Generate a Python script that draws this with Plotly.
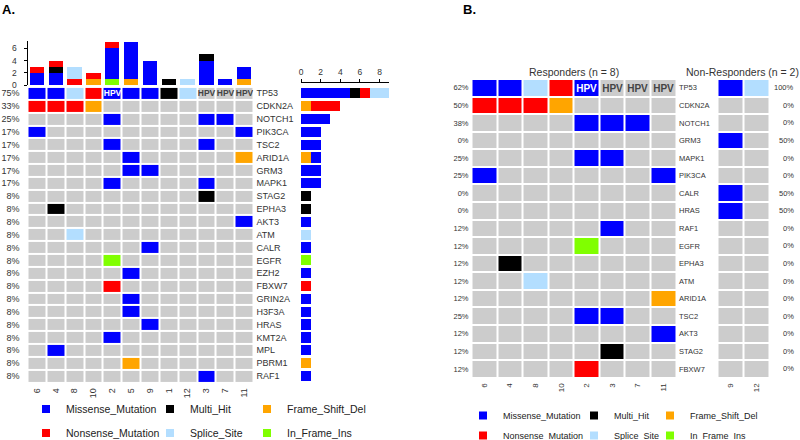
import plotly.graph_objects as go

W, H = 800, 440
FONT = "Liberation Sans, Arial, sans-serif"
TXT = "#333333"

# ---------------- data ----------------
classes = ["In_Frame_Ins", "Frame_Shift_Del", "Missense_Mutation", "Multi_Hit",
           "Nonsense_Mutation", "Splice_Site"]
class_codes = ["I", "F", "M", "H", "N", "S"]
class_colors = ["#80FF00", "#FFA500", "#0000FF", "#000000", "#FF0000", "#B3DEFF"]
NONE_COLOR = "#CCCCCC"

samples_a = ["6", "4", "8", "10", "2", "5", "9", "1", "12", "3", "7", "11"]
hpv_a = [0, 0, 0, 0, 1, 0, 0, 0, 0, 1, 1, 1]
genes_a = ["TP53", "CDKN2A", "NOTCH1", "PIK3CA", "TSC2", "ARID1A", "GRM3", "MAPK1",
           "STAG2", "EPHA3", "AKT3", "ATM", "CALR", "EGFR", "EZH2", "FBXW7", "GRIN2A",
           "H3F3A", "HRAS", "KMT2A", "MPL", "PBRM1", "RAF1"]
pct_a = ["75%", "33%", "25%", "17%", "17%", "17%", "17%", "17%", "8%", "8%", "8%", "8%",
         "8%", "8%", "8%", "8%", "8%", "8%", "8%", "8%", "8%", "8%", "8%"]
# one character per sample (order of samples_a); '.' = no mutation
muts_a = ["MMSNMMMHS...",
          "NNNF........",
          "....M....MM.",
          "M..........M",
          "....M....M..",
          ".....M.....F",
          ".....MM.....",
          "....M....M..",
          ".........H..",
          ".H..........",
          "...........M",
          "..S.........",
          "......M.....",
          "....I.......",
          ".....M......",
          "....N.......",
          ".....M......",
          ".....M......",
          "......M.....",
          "....M.......",
          ".M..........",
          ".....F......",
          ".........M.."]

samples_resp = ["6", "4", "8", "10", "2", "3", "7", "11"]
samples_nonresp = ["9", "12"]
hpv_resp = [0, 0, 0, 0, 1, 1, 1, 1]
hpv_nonresp = [0, 0]
genes_b = ["TP53", "CDKN2A", "NOTCH1", "GRM3", "MAPK1", "PIK3CA", "CALR", "HRAS", "RAF1",
           "EGFR", "EPHA3", "ATM", "ARID1A", "TSC2", "AKT3", "STAG2", "FBXW7"]
pct_resp = ["62%", "50%", "38%", "0%", "25%", "25%", "0%", "0%", "12%", "12%", "12%",
            "12%", "12%", "25%", "12%", "12%", "12%"]
pct_nonresp = ["100%", "0%", "0%", "50%", "0%", "0%", "50%", "50%", "0%", "0%", "0%",
               "0%", "0%", "0%", "0%", "0%", "0%"]
muts_resp = ["MMSNM...", "NNNF....", "....MMM.", "........", "....MM..", "M......M",
             "........", "........", ".....M..", "....I...", ".H......", "..S.....",
             ".......F", "....MM..", ".......M", ".....H..", "....N..."]
muts_nonresp = ["MS", "..", "..", "M.", "..", "..", "M.", "M.", "..", "..", "..",
                "..", "..", "..", "..", "..", ".."]

legend_cols = [["Missense_Mutation", "Nonsense_Mutation"],
               ["Multi_Hit", "Splice_Site"],
               ["Frame_Shift_Del", "In_Frame_Ins"]]

# ---------------- helpers ----------------
def fx(p):
    return p / W


def fy(p):
    return 1 - p / H


heat_codes = [".", "M", "N", "H", "S", "F", "I"]
heat_colors = [NONE_COLOR] + [class_colors[class_codes.index(c)] for c in heat_codes[1:]]
ncat = len(heat_codes)
colorscale = []
for k, c in enumerate(heat_colors):
    colorscale += [[k / ncat, c], [(k + 1) / ncat, c]]


def zmat(rows):
    return [[heat_codes.index(ch) for ch in r] for r in rows]


def textmat(rows, hpv):
    out = []
    for i, r in enumerate(rows):
        out.append(["HPV" if (i == 0 and hpv[j]) else "" for j in range(len(r))])
    return out


def heat(rows, hpv, xa, ya, gap, fsize):
    return go.Heatmap(z=zmat(rows), x=list(range(len(rows[0]))), y=list(range(len(rows))),
                      zmin=0, zmax=ncat - 1, colorscale=colorscale, showscale=False,
                      xgap=gap, ygap=gap, text=textmat(rows, hpv),
                      texttemplate="<b>%{text}</b>",
                      textfont=dict(size=fsize, family=FONT),
                      hoverinfo="skip", xaxis=xa, yaxis=ya)


def dummy(xa, ya):
    return go.Scatter(x=[0], y=[0], mode="markers", marker=dict(opacity=0),
                      hoverinfo="skip", showlegend=False, xaxis=xa, yaxis=ya)


legend_of = {}
rank_of = {}
for ci, col in enumerate(legend_cols):
    for ri, name in enumerate(col):
        legend_of[name] = ci
        rank_of[name] = ri + 1

fig = go.Figure()

# ---------------- panel A ----------------
fig.add_trace(heat(muts_a, hpv_a, "x", "y", 2, 8.5))
fig.add_trace(dummy("x", "y2"))

# top bars: counts per sample
for cls, code, col in zip(classes, class_codes, class_colors):
    counts = [sum(1 for r in muts_a if r[j] == code) for j in range(len(samples_a))]
    fig.add_trace(go.Bar(x=list(range(len(samples_a))), y=counts, marker_color=col,
                         marker_line_width=0, width=0.76, name=cls, showlegend=False,
                         hoverinfo="skip", xaxis="x2", yaxis="y3"))

# right bars: counts per gene
for cls, code, col in zip(classes, class_codes, class_colors):
    counts = [r.count(code) for r in muts_a]
    fig.add_trace(go.Bar(y=list(range(len(genes_a))), x=counts, orientation="h",
                         marker_color=col, marker_line_width=0, width=0.8, name=cls,
                         showlegend=False, hoverinfo="skip", xaxis="x3", yaxis="y4"))

# legend keys (legend-only entries) for both panels
for panel, base in (("a", 0), ("b", 3)):
    for cls, col in zip(classes, class_colors):
        li = legend_of[cls] + base
        fig.add_trace(go.Scatter(x=[None], y=[None], mode="markers", name=cls,
                                 marker=dict(symbol="square", size=8, color=col),
                                 legend="legend" if li == 0 else "legend%d" % (li + 1),
                                 legendgroup=panel + "_" + cls, legendrank=rank_of[cls],
                                 hoverinfo="skip", xaxis="x2", yaxis="y3"))

# ---------------- panel B ----------------
fig.add_trace(heat(muts_resp, hpv_resp, "x4", "y5", 2, 10))
fig.add_trace(dummy("x4", "y6"))
fig.add_trace(heat(muts_nonresp, hpv_nonresp, "x5", "y7", 2, 10))

# ---------------- layout ----------------
na, nb = len(genes_a), len(genes_b)
A_X = [fx(27.5), fx(253.5)]
A_Y = [fy(382.4), fy(86.9)]
B_Y = [fy(377.7), fy(79.0)]
B_X1 = [fx(471.5), fx(676.0)]
B_X2 = [fx(717.5), fx(769.0)]

noax = dict(showgrid=False, zeroline=False, showline=False, ticks="")

annotations = [
    dict(text="<b>A.</b>", x=fx(0), y=fy(10), xref="paper", yref="paper",
         xanchor="left", yanchor="middle", showarrow=False,
         font=dict(size=13, color="black")),
    dict(text="<b>B.</b>", x=fx(461), y=fy(10), xref="paper", yref="paper",
         xanchor="left", yanchor="middle", showarrow=False,
         font=dict(size=13, color="black")),
    dict(text="Responders (n = 8)", x=fx(573.5), y=fy(72), xref="paper",
         yref="paper", xanchor="center", yanchor="middle", showarrow=False,
         font=dict(size=10.5, color=TXT)),
    dict(text="Non-Responders (n = 2)", x=fx(742), y=fy(72), xref="paper",
         yref="paper", xanchor="center", yanchor="middle", showarrow=False,
         font=dict(size=10.5, color=TXT)),
]
for i, p in enumerate(pct_nonresp):
    annotations.append(dict(text=p, x=fx(796), y=i, xref="paper", yref="y7",
                            xanchor="right", yanchor="middle", showarrow=False,
                            font=dict(size=7.5, color=TXT)))

layout = dict(
    width=W, height=H, margin=dict(l=0, r=0, t=0, b=0, autoexpand=False),
    paper_bgcolor="white", plot_bgcolor="white",
    font=dict(family=FONT, color=TXT, size=9),
    barmode="stack", showlegend=True,
    xaxis=dict(domain=A_X, range=[-0.5, len(samples_a) - 0.5], anchor="y",
               tickvals=list(range(len(samples_a))), ticktext=samples_a, tickangle=-90,
               tickfont=dict(size=9), ticklabelstandoff=3, **noax),
    yaxis=dict(domain=A_Y, range=[na - 0.5, -0.5], anchor="x", side="right",
               tickvals=list(range(na)), ticktext=genes_a, tickfont=dict(size=9),
               ticklabelstandoff=2, **noax),
    yaxis2=dict(overlaying="y", range=[na - 0.5, -0.5], anchor="x", side="left",
                tickvals=list(range(na)), ticktext=pct_a, tickfont=dict(size=9),
                ticklabelstandoff=7, **noax),
    xaxis2=dict(domain=A_X, range=[-0.5, len(samples_a) - 0.5], anchor="y3",
                visible=False),
    yaxis3=dict(domain=[fy(85), fy(40.7)], range=[0, 7.26], anchor="x2",
                tickvals=[0, 2, 4, 6], showgrid=False, zeroline=False, showline=True,
                linecolor="black", linewidth=1, ticks="outside", ticklen=3,
                tickcolor="black", tickfont=dict(size=8.5), ticklabelstandoff=5),
    xaxis3=dict(domain=[fx(301), fx(389.3)], range=[0, 9], anchor="free",
                position=fy(81.7), side="top", tickvals=[0, 2, 4, 6, 8],
                showgrid=False, zeroline=False, showline=True, linecolor="black",
                linewidth=1, ticks="outside", ticklen=3, tickcolor="black",
                tickfont=dict(size=8.5)),
    yaxis4=dict(domain=A_Y, range=[na - 0.5, -0.5], anchor="x3", visible=False),
    xaxis4=dict(domain=B_X1, range=[-0.5, len(samples_resp) - 0.5], anchor="y5",
                tickvals=list(range(len(samples_resp))), ticktext=samples_resp,
                tickangle=-90, tickfont=dict(size=8), ticklabelstandoff=3, **noax),
    yaxis5=dict(domain=B_Y, range=[nb - 0.5, -0.5], anchor="x4", side="right",
                tickvals=list(range(nb)), ticktext=genes_b, tickfont=dict(size=7.5),
                ticklabelstandoff=2, **noax),
    yaxis6=dict(overlaying="y5", range=[nb - 0.5, -0.5], anchor="x4", side="left",
                tickvals=list(range(nb)), ticktext=pct_resp, tickfont=dict(size=7.5),
                ticklabelstandoff=2, **noax),
    xaxis5=dict(domain=B_X2, range=[-0.5, len(samples_nonresp) - 0.5], anchor="y7",
                tickvals=list(range(len(samples_nonresp))), ticktext=samples_nonresp,
                tickangle=-90, tickfont=dict(size=8), ticklabelstandoff=3, **noax),
    yaxis7=dict(domain=B_Y, range=[nb - 0.5, -0.5], anchor="x5", showticklabels=False,
                **noax),
    annotations=annotations,
)

leg_a_x = [26, 150, 247]
leg_b_x = [463, 574, 650]
for i, xpos in enumerate(leg_a_x):
    key = "legend" if i == 0 else "legend%d" % (i + 1)
    layout[key] = dict(x=fx(xpos), y=fy(394.5), xanchor="left", yanchor="top",
                       orientation="v", bgcolor="rgba(0,0,0,0)", borderwidth=0,
                       tracegroupgap=5, font=dict(size=10.5, color="#222"))
for i, xpos in enumerate(leg_b_x):
    key = "legend%d" % (i + 4)
    layout[key] = dict(x=fx(xpos), y=fy(401), xanchor="left", yanchor="top",
                       orientation="v", bgcolor="rgba(0,0,0,0)", borderwidth=0,
                       tracegroupgap=1, font=dict(size=9, color="#222"))

fig.update_layout(**layout)
fig.write_html("out.html", config={"displayModeBar": False},
               post_script="document.body.style.margin='0';document.body.style.padding='0';")
